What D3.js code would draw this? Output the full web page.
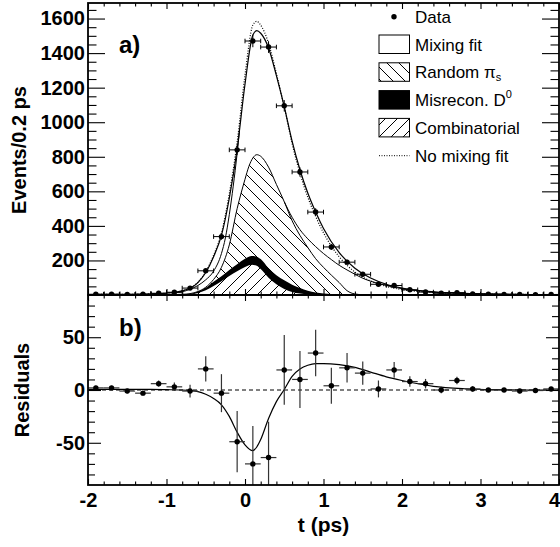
<!DOCTYPE html>
<html>
<head>
<meta charset="utf-8">
<script src="https://cdn.jsdelivr.net/npm/d3@7"></script>
<style>
  body { margin: 0; background: #fff; }
  svg, svg text { font-family: "Liberation Sans", Arial, Helvetica, sans-serif; }
  svg { display: block; }
  .tick line { stroke: #000; stroke-width: 1.1; }
  .tick text { font-family: "Liberation Sans", Arial, Helvetica, sans-serif; font-size: 20px; font-weight: bold; fill: #000; }
</style>
</head>
<body>
<div id="chart"></div>
<script>
// data, 0.2 ps bins
const bin_t = [-1.9, -1.7, -1.5, -1.3, -1.1, -0.9, -0.7, -0.5, -0.3, -0.1, 0.1, 0.3, 0.5, 0.7, 0.9,
               1.1, 1.3, 1.5, 1.7, 1.9, 2.1, 2.3, 2.5, 2.7, 2.9, 3.1, 3.3, 3.5, 3.7, 3.9]
const events = [4, 4, 3, 4, 10, 16, 40, 140, 338, 840, 1470, 1435, 1095, 712, 480,
                278, 190, 120, 62, 55, 30, 17, 10, 14, 6, 4, 3, 3, 2, 3]
const errors = [2, 2, 2, 2, 3, 4, 6, 12, 18, 29, 36, 34, 33, 27, 22,
                17, 14, 11, 8, 7.5, 5, 4.5, 3, 3.5, 2.5, 2, 2, 2, 1.5, 1.5]
const residuals = [2, 2, -1, -3, 6, 3, -1, 20, -3, -49, -70, -64, 19, 10, 35,
                   4, 21, 16, 1, 19, 8, 6, 0, 9, 1, 0, 0, -1, -0.5, 1]

// fit curves
const fit_t = [-2.0, -1.6, -1.2, -1.0, -0.8, -0.6, -0.5, -0.4, -0.3, -0.2, -0.1, 0.0, 0.1, 0.15, 0.2,
               0.3, 0.4, 0.5, 0.6, 0.7, 0.8, 0.9, 1.0, 1.2, 1.4, 1.6, 1.8, 2.0, 2.4, 2.8, 3.2, 3.6, 4.0]
const mixing_fit = [3, 4, 7, 11, 24, 72, 130, 222, 345, 560, 845, 1220, 1505, 1530, 1515,
                    1430, 1270, 1090, 890, 725, 590, 480, 385, 245, 155, 98, 62, 40, 18, 9, 5, 3, 2]
const no_mixing_fit = [3, 3.5, 6.5, 10.7, 24, 73.5, 134, 230, 359, 585, 885, 1272, 1562, 1584, 1562,
                       1457, 1281, 1089, 877, 705, 566, 455, 360, 221, 133, 81, 50, 31, 14.5, 7.8, 4.7, 3, 2]
const fit_difference = [0.5, 0.5, 0.5, 0.3, 0, -1.5, -4, -8, -14, -25, -40, -52, -57.5, -54, -47,
                        -27, -11, 0.5, 13, 20, 23.5, 25, 25, 24, 21.5, 17, 12.5, 9, 3.5, 1.2, 0.3, 0, 0]

// stacked components
const pis_t = [-2.0, -1.0, -0.8, -0.7, -0.6, -0.5, -0.4, -0.3, -0.2, -0.1, 0.0, 0.05, 0.1, 0.15, 0.2,
               0.3, 0.4, 0.5, 0.6, 0.7, 0.8, 0.9, 1.0, 1.1, 1.2, 1.3, 1.4, 1.5, 2.0, 4.0]
const random_pis = [1, 2, 4, 8, 20, 45, 90, 160, 290, 500, 670, 745, 793, 812, 803,
                    740, 640, 540, 430, 345, 275, 210, 160, 115, 72, 25, 6, 2, 1, 1]
const bkg_t = [-2.0, -1.0, -0.8, -0.7, -0.6, -0.5, -0.4, -0.3, -0.2, -0.1, 0.0, 0.085, 0.15, 0.2,
               0.3, 0.4, 0.5, 0.6, 0.7, 0.8, 0.9, 1.0, 1.2, 1.4, 1.6, 2.0, 4.0]
const misrecon = [1, 1.5, 3, 6, 20, 42, 77, 108, 145, 178, 210, 226, 222, 208,
                  155, 115, 85, 60, 40, 25, 14, 8, 3, 1, 0.5, 0.5, 0.5]
const combinatorial = [1, 1, 2, 3, 12, 28, 52, 80, 110, 137, 162, 175, 170, 150,
                       100, 62, 35, 18, 9, 4, 2, 1, 0.5, 0.5, 0.5, 0.5, 0.5]
const bkg_sum_left_t = [-0.9, -0.8, -0.7, -0.6, -0.5, -0.4, -0.3, -0.25, -0.2, -0.15, -0.1, -0.07]
const bkg_sum_left = [13, 19, 33, 55, 88, 138, 240, 330, 465, 630, 820, 950]
const bkg_sum_right_t = [0.5, 0.6, 0.7, 0.8, 0.9, 1.0, 1.1, 1.2, 1.3, 1.4, 1.5, 1.6, 1.7, 1.8, 1.9,
                         2.0, 2.2, 2.4, 2.8, 3.2, 3.6, 4.0]
const bkg_sum_right = [540, 450, 378, 325, 280, 240, 205, 172, 145, 120, 97, 80, 66, 55, 45,
                       37, 26, 17, 8.5, 4.8, 2.9, 1.9]

const top_ticks = [200, 400, 600, 800, 1000, 1200, 1400, 1600]
const res_ticks = [-50, 0, 50]
const t_ticks = [-2, -1, 0, 1, 2, 3, 4]

const W = 560, H = 547
const p_left = 88, p_right = 559, p_top = 3, p_mid = 295, p_bottom = 485

const x = d3.scaleLinear().domain([-2, 4]).range([p_left, p_right])
const y_top = d3.scaleLinear().domain([0, 1690]).range([p_mid, p_top])
const y_res = d3.scaleLinear().domain([-90, 90]).range([p_bottom, p_mid])

const svg = d3.select("#chart").append("svg")
    .attr("width", W)
    .attr("height", H)

const defs = svg.append("defs")
defs.append("clipPath").attr("id", "clip_top")
    .append("rect").attr("x", p_left).attr("y", p_top).attr("width", p_right - p_left).attr("height", p_mid - p_top)
defs.append("clipPath").attr("id", "clip_res")
    .append("rect").attr("x", p_left).attr("y", p_mid).attr("width", p_right - p_left).attr("height", p_bottom - p_mid)

// hatch patterns like ROOT 3005 (\\\) and 3004 (///)
function add_hatch(id, d) {
    const p = defs.append("pattern").attr("id", id)
        .attr("patternUnits", "userSpaceOnUse")
        .attr("width", 12).attr("height", 12)
    p.append("rect").attr("width", 12).attr("height", 12).attr("fill", "#fff")
    p.append("path").attr("d", d).attr("stroke", "#000").attr("stroke-width", 1).attr("fill", "none")
}
add_hatch("hatch_back", "M0,0L12,12M-2,10L2,14M10,-2L14,2")
add_hatch("hatch_fwd", "M0,12L12,0M-2,2L2,-2M10,14L14,10")

function top_line(tt) {
    return d3.line().x((d, i) => x(tt[i])).y(d => y_top(d)).curve(d3.curveMonotoneX)
}
function top_area(tt) {
    return d3.area().x((d, i) => x(tt[i])).y0(y_top(0)).y1(d => y_top(d)).curve(d3.curveMonotoneX)
}

// ---- top panel
const g_top = svg.append("g").attr("clip-path", "url(#clip_top)")

g_top.append("path").attr("d", top_area(fit_t)(mixing_fit)).attr("fill", "#fff")
g_top.append("path").attr("d", top_area(pis_t)(random_pis)).attr("fill", "url(#hatch_back)")
g_top.append("path").attr("d", top_area(bkg_t)(misrecon)).attr("fill", "#000")
g_top.append("path").attr("d", top_area(bkg_t)(combinatorial)).attr("fill", "url(#hatch_fwd)")

g_top.append("path").attr("d", top_line(pis_t)(random_pis))
    .attr("fill", "none").attr("stroke", "#000").attr("stroke-width", 1)
g_top.append("path").attr("d", top_line(bkg_sum_left_t)(bkg_sum_left))
    .attr("fill", "none").attr("stroke", "#000").attr("stroke-width", 1)
g_top.append("path").attr("d", top_line(bkg_sum_right_t)(bkg_sum_right))
    .attr("fill", "none").attr("stroke", "#000").attr("stroke-width", 1)
g_top.append("path").attr("d", top_line(fit_t)(mixing_fit))
    .attr("fill", "none").attr("stroke", "#000").attr("stroke-width", 1.2)
g_top.append("path").attr("d", top_line(fit_t)(no_mixing_fit))
    .attr("fill", "none").attr("stroke", "#000").attr("stroke-width", 1.2)
    .attr("stroke-dasharray", "1,1.6")

// data points with error bars
const pts = g_top.selectAll(".pt").data(bin_t).enter().append("g")
pts.append("line")
    .attr("x1", d => x(d - 0.1)).attr("x2", d => x(d + 0.1))
    .attr("y1", (d, i) => y_top(events[i])).attr("y2", (d, i) => y_top(events[i]))
    .attr("stroke", "#000").attr("stroke-width", 1)
pts.append("line")
    .attr("x1", d => x(d)).attr("x2", d => x(d))
    .attr("y1", (d, i) => y_top(events[i] - errors[i])).attr("y2", (d, i) => y_top(events[i] + errors[i]))
    .attr("stroke", "#000").attr("stroke-width", 1)
pts.append("path")
    .attr("d", (d, i) => {
        const yy = y_top(events[i])
        return "M" + x(d - 0.1) + "," + (yy - 2.3) + "V" + (yy + 2.3) +
               "M" + x(d + 0.1) + "," + (yy - 2.3) + "V" + (yy + 2.3)
    })
    .attr("stroke", "#000").attr("stroke-width", 1)
pts.append("circle")
    .attr("cx", d => x(d)).attr("cy", (d, i) => y_top(events[i]))
    .attr("r", 2.7).attr("fill", "#000")

// ---- residual panel
const g_res = svg.append("g").attr("clip-path", "url(#clip_res)")
g_res.append("line")
    .attr("x1", p_left).attr("x2", p_right).attr("y1", y_res(0)).attr("y2", y_res(0))
    .attr("stroke", "#000").attr("stroke-width", 1).attr("stroke-dasharray", "4,3")
g_res.append("path")
    .attr("d", d3.line().x((d, i) => x(fit_t[i])).y(d => y_res(d)).curve(d3.curveMonotoneX)(fit_difference))
    .attr("fill", "none").attr("stroke", "#000").attr("stroke-width", 1.2)

const rpts = g_res.selectAll(".rpt").data(bin_t).enter().append("g")
rpts.append("line")
    .attr("x1", d => x(d - 0.1)).attr("x2", d => x(d + 0.1))
    .attr("y1", (d, i) => y_res(residuals[i])).attr("y2", (d, i) => y_res(residuals[i]))
    .attr("stroke", "#333").attr("stroke-width", 1.2)
rpts.append("line")
    .attr("x1", d => x(d)).attr("x2", d => x(d))
    .attr("y1", (d, i) => y_res(residuals[i] - errors[i])).attr("y2", (d, i) => y_res(residuals[i] + errors[i]))
    .attr("stroke", "#333").attr("stroke-width", 1.2)
rpts.append("circle")
    .attr("cx", d => x(d)).attr("cy", (d, i) => y_res(residuals[i]))
    .attr("r", 2.7).attr("fill", "#000")

// ---- axes
function add_axis(axis, transform) {
    return svg.append("g").attr("transform", transform).call(axis)
        .call(g => g.select(".domain").remove())
}
const top_minor = d3.range(50, 1690, 50).filter(v => v % 200 !== 0)
const res_minor = d3.range(-80, 90, 10).filter(v => v % 50 !== 0)
const t_minor = d3.range(-10, 21).filter(i => i % 5 !== 0).map(i => i / 5)
const no_label = () => ""
const as_text = d => String(d)

add_axis(d3.axisLeft(y_top).tickValues(top_ticks).tickSizeInner(-17).tickSizeOuter(0)
    .tickPadding(3).tickFormat(as_text), "translate(" + p_left + ",0)")
add_axis(d3.axisLeft(y_top).tickValues(top_minor).tickSizeInner(-8.5).tickSizeOuter(0)
    .tickFormat(no_label), "translate(" + p_left + ",0)")
add_axis(d3.axisRight(y_top).tickValues(top_ticks).tickSizeInner(-17).tickSizeOuter(0)
    .tickFormat(no_label), "translate(" + p_right + ",0)")
add_axis(d3.axisRight(y_top).tickValues(top_minor).tickSizeInner(-8.5).tickSizeOuter(0)
    .tickFormat(no_label), "translate(" + p_right + ",0)")

add_axis(d3.axisLeft(y_res).tickValues(res_ticks).tickSizeInner(-13).tickSizeOuter(0)
    .tickPadding(3).tickFormat(as_text), "translate(" + p_left + ",0)")
add_axis(d3.axisLeft(y_res).tickValues(res_minor).tickSizeInner(-7).tickSizeOuter(0)
    .tickFormat(no_label), "translate(" + p_left + ",0)")
add_axis(d3.axisRight(y_res).tickValues(res_ticks).tickSizeInner(-13).tickSizeOuter(0)
    .tickFormat(no_label), "translate(" + p_right + ",0)")
add_axis(d3.axisRight(y_res).tickValues(res_minor).tickSizeInner(-7).tickSizeOuter(0)
    .tickFormat(no_label), "translate(" + p_right + ",0)")

// x ticks on every horizontal frame line
add_axis(d3.axisTop(x).tickValues(t_ticks).tickSizeInner(-6).tickSizeOuter(0).tickFormat(no_label), "translate(0," + p_top + ")")
add_axis(d3.axisTop(x).tickValues(t_minor).tickSizeInner(-3.5).tickSizeOuter(0).tickFormat(no_label), "translate(0," + p_top + ")")
add_axis(d3.axisBottom(x).tickValues(t_ticks).tickSizeInner(-6).tickSizeOuter(0).tickFormat(no_label), "translate(0," + p_mid + ")")
add_axis(d3.axisBottom(x).tickValues(t_minor).tickSizeInner(-3.5).tickSizeOuter(0).tickFormat(no_label), "translate(0," + p_mid + ")")
add_axis(d3.axisTop(x).tickValues(t_ticks).tickSizeInner(-6).tickSizeOuter(0).tickFormat(no_label), "translate(0," + p_mid + ")")
add_axis(d3.axisTop(x).tickValues(t_minor).tickSizeInner(-3.5).tickSizeOuter(0).tickFormat(no_label), "translate(0," + p_mid + ")")
const x_axis = add_axis(d3.axisBottom(x).tickValues(t_ticks).tickSizeInner(-6).tickSizeOuter(0)
    .tickPadding(8).tickFormat(as_text), "translate(0," + p_bottom + ")")
// last label sits on the window edge, nudge it in
x_axis.selectAll(".tick text").filter(d => d === 4).attr("dx", -5)
add_axis(d3.axisBottom(x).tickValues(t_minor).tickSizeInner(-3.5).tickSizeOuter(0).tickFormat(no_label), "translate(0," + p_bottom + ")")

// frames
svg.append("rect").attr("x", p_left).attr("y", p_top).attr("width", p_right - p_left).attr("height", p_mid - p_top)
    .attr("fill", "none").attr("stroke", "#000").attr("stroke-width", 1.8)
svg.append("rect").attr("x", p_left).attr("y", p_mid).attr("width", p_right - p_left).attr("height", p_bottom - p_mid)
    .attr("fill", "none").attr("stroke", "#000").attr("stroke-width", 1.8)

// titles
svg.append("text").attr("transform", "translate(26,150) rotate(-90)")
    .attr("text-anchor", "middle").attr("font-size", 20).attr("font-weight", "bold")
    .text("Events/0.2 ps")
svg.append("text").attr("transform", "translate(28.5,390) rotate(-90)")
    .attr("text-anchor", "middle").attr("font-size", 20).attr("font-weight", "bold")
    .text("Residuals")
svg.append("text").attr("x", x(1)).attr("y", 532)
    .attr("text-anchor", "middle").attr("font-size", 21).attr("font-weight", "bold")
    .text("t (ps)")
svg.append("text").attr("x", 119).attr("y", 53)
    .attr("font-size", 24).attr("font-weight", "bold").text("a)")
svg.append("text").attr("x", 119).attr("y", 336)
    .attr("font-size", 24).attr("font-weight", "bold").text("b)")

// legend
const leg = svg.append("g")
const leg_x = 379, leg_text_x = 415, leg_step = 27.8, leg_base = 22.7
function leg_text(k) {
    return leg.append("text").attr("x", leg_text_x).attr("y", leg_base + k * leg_step)
        .attr("font-size", 17)
}
function leg_box(k, fill) {
    leg.append("rect").attr("x", leg_x).attr("y", leg_base + k * leg_step - 15.5)
        .attr("width", 30.5).attr("height", 18.5)
        .attr("fill", fill).attr("stroke", "#000").attr("stroke-width", 1)
}
leg.append("circle").attr("cx", 394).attr("cy", leg_base - 6).attr("r", 2.7).attr("fill", "#000")
leg_text(0).text("Data")
leg_box(1, "#fff")
leg_text(1).text("Mixing fit")
leg_box(2, "url(#hatch_back)")
const t2 = leg_text(2)
t2.append("tspan").text("Random ")
t2.append("tspan").text("π")
t2.append("tspan").attr("font-size", 11).attr("dy", 3).text("s")
leg_box(3, "#000")
const t3 = leg_text(3)
t3.append("tspan").text("Misrecon. D")
t3.append("tspan").attr("font-size", 11).attr("dy", -8).text("0")
leg_box(4, "url(#hatch_fwd)")
leg_text(4).text("Combinatorial")
leg.append("line").attr("x1", leg_x).attr("x2", leg_x + 30.5)
    .attr("y1", leg_base + 5 * leg_step - 6).attr("y2", leg_base + 5 * leg_step - 6)
    .attr("stroke", "#000").attr("stroke-width", 1).attr("stroke-dasharray", "1,1.5")
leg_text(5).text("No mixing fit")
</script>
</body>
</html>
